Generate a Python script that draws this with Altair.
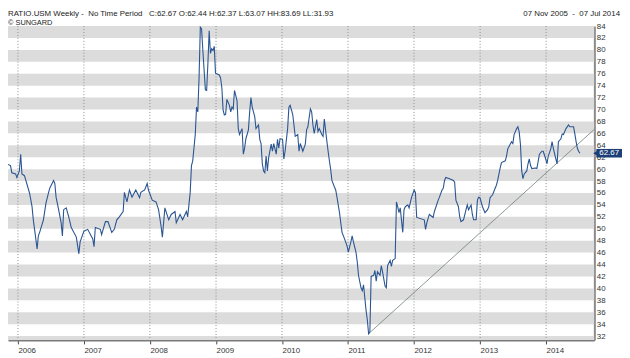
import altair as alt
import pandas as pd

# ---- data (weeks since 07 Nov 2005, ratio value) ----
weeks = [0, 2, 3, 6, 7, 9, 10, 11, 13, 17, 19, 20, 21, 23, 24, 25, 28, 30, 32, 33,
         36, 37, 38, 40, 42, 43, 44, 46, 48, 50, 54, 56, 57, 60, 63, 67, 68, 69, 73, 74,
         77, 79, 82, 84, 86, 88, 91, 92, 94, 96, 98, 101, 104, 105, 108, 110, 111, 114, 117, 119,
         121, 122, 124, 127, 129, 132, 133, 136, 138, 141, 142, 144, 145, 146, 148, 149, 150, 151, 152, 153,
         154, 156, 157, 158, 159, 160, 161, 162, 163, 164, 167, 168, 169, 170, 171, 172, 173, 175, 176, 177,
         178, 179, 181, 182, 183, 185, 186, 187, 188, 190, 191, 192, 193, 194, 195, 196, 198, 199, 200, 201,
         202, 203, 204, 205, 206, 208, 209, 210, 212, 213, 214, 215, 217, 218, 219, 221, 222, 223, 225, 226,
         227, 229, 230, 231, 233, 235, 236, 237, 239, 240, 241, 242, 244, 245, 246, 248, 249, 250, 252, 253,
         254, 255, 256, 258, 259, 260, 262, 263, 264, 266, 268, 269, 271, 272, 273, 275, 276, 277, 279, 280,
         281, 282, 283, 284, 285, 286, 287, 289, 290, 291, 292, 294, 295, 296, 298, 299, 300, 302, 303, 304,
         306, 307, 308, 309, 310, 312, 313, 314, 316, 317, 319, 321, 322, 323, 329, 330, 331, 333, 336, 337,
         340, 341, 343, 344, 345, 346, 349, 352, 353, 354, 356, 357, 358, 360, 362, 363, 364, 366, 367, 368,
         370, 371, 372, 373, 375, 376, 377, 379, 380, 381, 383, 385, 386, 387, 389, 390, 393, 394, 395, 397,
         398, 399, 400, 402, 403, 404, 405, 406, 407, 408, 410, 411, 412, 413, 414, 417, 418, 420, 422, 423,
         425, 426, 427, 429, 430, 431, 433, 434, 435, 437, 438, 439, 440, 441, 443, 444, 447, 448, 449, 450,
         451, 452]
values = [60.8, 60.6, 59.4, 59.2, 58.6, 59.7, 62.5, 59.2, 58.9, 56.0, 53.7, 51.5, 49.9, 46.6, 48.8, 49.4, 51.5, 54.3, 56.0, 56.8,
          58.1, 57.6, 55.3, 53.2, 51.0, 48.8, 53.2, 53.5, 52.0, 50.2, 48.6, 45.8, 47.8, 49.6, 49.9, 48.3, 47.0, 50.2, 49.9, 49.0,
          51.2, 51.2, 49.4, 49.9, 51.5, 52.0, 52.9, 56.1, 54.5, 56.5, 55.3, 56.5, 55.2, 56.1, 56.5, 57.6, 56.5, 54.8, 54.5, 53.2,
          50.4, 48.6, 53.5, 51.5, 52.4, 52.9, 51.0, 52.4, 51.5, 52.9, 52.0, 56.1, 60.6, 61.4, 65.8, 70.4, 69.6, 75.3, 83.8, 83.5,
          79.9, 73.3, 73.2, 77.8, 83.2, 79.4, 80.2, 79.9, 80.6, 76.1, 75.8, 75.3, 73.7, 69.9, 69.1, 69.2, 71.7, 70.7, 69.6, 70.4,
          70.1, 73.2, 71.5, 66.8, 65.8, 66.8, 62.5, 63.5, 65.1, 66.6, 69.6, 72.0, 70.4, 69.6, 68.8, 66.8, 67.4, 65.0, 64.3, 60.9,
          59.7, 59.4, 62.2, 59.7, 61.9, 64.2, 63.0, 64.3, 62.5, 65.0, 63.5, 65.1, 65.0, 61.7, 63.0, 66.8, 70.4, 70.7, 69.2, 67.4,
          65.5, 65.8, 63.0, 64.3, 63.0, 64.2, 66.6, 67.1, 70.1, 69.6, 67.4, 66.0, 68.3, 66.3, 66.8, 65.8, 65.5, 68.4, 64.7, 63.0,
          61.4, 60.0, 58.1, 57.0, 56.5, 55.3, 52.7, 51.0, 49.4, 48.3, 47.1, 46.1, 47.8, 48.8, 47.8, 46.1, 44.5, 42.2, 40.1, 39.6,
          40.6, 38.4, 36.3, 34.7, 32.4, 32.7, 42.0, 42.2, 43.0, 41.2, 42.8, 42.2, 43.8, 42.8, 40.4, 40.1, 43.8, 44.7, 43.7, 44.7,
          45.0, 54.5, 53.7, 52.7, 53.5, 49.4, 53.2, 53.7, 54.0, 53.5, 55.3, 56.5, 56.1, 51.9, 51.5, 49.9, 51.0, 52.4, 51.9, 52.9,
          54.8, 55.3, 56.5, 56.8, 58.1, 58.6, 58.4, 58.1, 57.8, 54.8, 53.7, 52.0, 51.2, 51.5, 53.2, 54.0, 53.2, 54.0, 52.4, 51.5,
          51.5, 54.8, 55.3, 55.2, 53.7, 53.2, 52.7, 53.2, 53.7, 55.2, 55.7, 56.8, 57.3, 58.1, 60.2, 61.1, 61.4, 62.2, 63.4, 64.2,
          64.6, 64.3, 65.8, 66.8, 67.1, 66.3, 64.2, 59.7, 58.4, 59.2, 59.7, 60.9, 61.7, 60.6, 60.1, 60.2, 60.1, 62.5, 63.0, 63.0,
          61.7, 60.9, 62.2, 63.4, 64.6, 63.5, 61.7, 60.9, 64.6, 65.1, 65.9, 65.8, 66.3, 66.8, 67.4, 67.1, 67.1, 65.9, 64.6, 63.5,
          63.0, 62.67]

trend_weeks = [285, 464]
trend_values = [32.4, 66.8]

year_labels = [2006, 2007, 2008, 2009, 2010, 2011, 2012, 2013, 2014]
y_ticks = list(range(32, 86, 2))
band_lows = list(range(30, 84, 4))

last_value = 62.67
header_left = ("RATIO.USM Weekly -\u00a0\u00a0No Time Period\u00a0\u00a0\u00a0C:62.67 O:62.44 H:62.37 "
               "L:63.07 HH:83.69 LL:31.93")
header_right = "07 Nov 2005\u00a0\u00a0-\u00a0\u00a007 Jul 2014"
source = "\u00a9 SUNGARD"

# ---- build tables ----
start = pd.Timestamp("2005-11-07")
df = pd.DataFrame({"date": [start + pd.Timedelta(weeks=w) for w in weeks], "value": values})
trend = pd.DataFrame({"date": [start + pd.Timedelta(weeks=w) for w in trend_weeks], "value": trend_values})
years = pd.DataFrame({"date": [pd.Timestamp(year=y, month=1, day=1) for y in year_labels]})
bands = pd.DataFrame({"lo": band_lows, "hi": [b + 2 for b in band_lows]})
last = pd.DataFrame({"value": [last_value], "lo": [last_value - 0.72], "hi": [last_value + 0.72],
                     "label": [f"{last_value:.2f}"]})

W, H = 594, 318
FONT = "Liberation Sans"

xscale = alt.Scale(domain=[alt.DateTime(year=2005, month=11, date=7),
                           alt.DateTime(year=2014, month=9, date=25)])
yscale = alt.Scale(domain=[31.35, 84], nice=False, zero=False)

y_axis = alt.Axis(
    orient="right", values=y_ticks, title=None, grid=False, ticks=False,
    labelOverlap=False, labelBound=False, labelFlush=False,
    domainColor="#8a8a8a", domainWidth=2, labelFontSize=8, labelFont=FONT,
    labelColor="#333333", labelPadding=2)
x_axis = alt.Axis(
    orient="bottom", format="%Y", title=None, grid=False,
    values=[alt.DateTime(year=y, month=1, date=1) for y in year_labels],
    domainColor="#7a7a7a", domainWidth=2, tickColor="#444444", tickSize=4,
    labelAlign="left", labelFontSize=8, labelFont=FONT, labelColor="#333333",
    labelPadding=3, labelOffset=0, labelFlush=False, labelOverlap=False)

band_layer = alt.Chart(bands).mark_rect(color="#dcdcdc", clip=True).encode(
    x=alt.value(0), x2=alt.value(W),
    y=alt.Y("lo:Q", scale=yscale, axis=y_axis),
    y2="hi:Q",
)

grid_layer = alt.Chart(years).mark_rule(color="#8c8c8c", strokeDash=[1, 2], strokeWidth=1).encode(
    x=alt.X("date:T", scale=xscale, axis=x_axis),
)

trend_layer = alt.Chart(trend).mark_line(color="#6f7f74", strokeWidth=0.8, clip=True).encode(
    x=alt.X("date:T", scale=xscale, axis=x_axis), y=alt.Y("value:Q", scale=yscale, axis=y_axis))

line_layer = alt.Chart(df).mark_line(color="#2a5592", strokeWidth=1.1).encode(
    x=alt.X("date:T", scale=xscale, axis=x_axis), y=alt.Y("value:Q", scale=yscale, axis=y_axis))

box_layer = alt.Chart(last).mark_rect(color="#1d3f78").encode(
    x=alt.value(W + 2), x2=alt.value(W + 28),
    y=alt.Y("lo:Q", scale=yscale, axis=y_axis), y2="hi:Q")
arrow_layer = alt.Chart(last).mark_point(shape="triangle-left", filled=True, color="#1d3f78",
                                         size=26, opacity=1).encode(
    x=alt.value(W + 1), y=alt.Y("value:Q", scale=yscale, axis=y_axis))
box_text = alt.Chart(last).mark_text(color="white", fontSize=8, font=FONT, align="center",
                                     baseline="middle").encode(
    x=alt.value(W + 15), y=alt.Y("value:Q", scale=yscale, axis=y_axis), text="label:N")

head_left = alt.Chart(pd.DataFrame({"t": [header_left]})).mark_text(
    align="left", baseline="middle", fontSize=8, font=FONT, color="#222222").encode(
    x=alt.value(0), y=alt.value(-12), text="t:N")
head_src = alt.Chart(pd.DataFrame({"t": [source]})).mark_text(
    align="left", baseline="middle", fontSize=7.5, font=FONT, color="#222222").encode(
    x=alt.value(0), y=alt.value(-3.5), text="t:N")
head_right = alt.Chart(pd.DataFrame({"t": [header_right]})).mark_text(
    align="right", baseline="middle", fontSize=8, font=FONT, color="#222222").encode(
    x=alt.value(W + 26), y=alt.value(-12), text="t:N")

chart = alt.layer(
    band_layer, grid_layer, trend_layer, line_layer, box_layer, arrow_layer, box_text,
    head_left, head_src, head_right,
).properties(
    width=W, height=H,
    autosize=alt.AutoSizeParams(type="none"),
    padding={"left": 0, "top": 16, "right": 28, "bottom": 16},
    background="white",
).configure_view(stroke=None)

chart.save("out.html", embed_options={"renderer": "svg", "actions": False})
